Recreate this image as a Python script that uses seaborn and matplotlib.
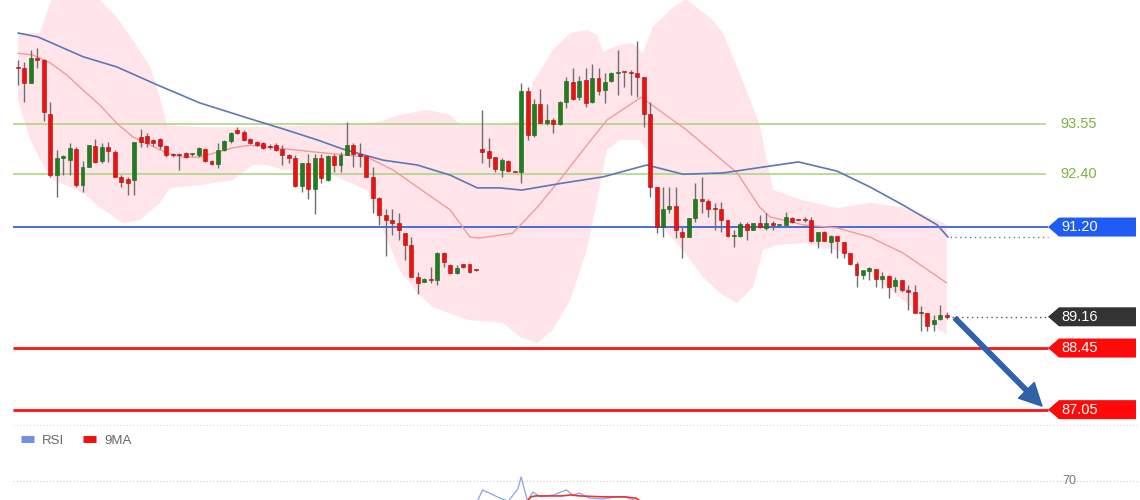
import numpy as np
import pandas as pd
import seaborn as sns
import matplotlib.pyplot as plt
from matplotlib.patches import Polygon
from matplotlib.lines import Line2D

# candles (oldest -> newest)
opens = [94.84, 94.81, 94.47, 95.05, 95.00, 93.78, 92.38, 92.78, 92.72, 92.98,
         92.15, 92.57, 93.05, 92.69, 93.01, 92.90, 92.34, 92.29, 92.27, 93.25,
         93.27, 93.18, 93.20, 93.04, 92.87, 92.85, 92.88, 92.85, 92.83, 92.98,
         92.70, 92.63, 92.95, 93.15, 93.40, 93.37, 93.19, 93.14, 93.10, 93.03,
         93.06, 92.97, 92.84, 92.76, 92.13, 92.65, 92.06, 92.76, 92.27, 92.81,
         92.61, 92.84, 93.06, 92.87, 92.81, 92.34, 91.87, 91.47, 91.37, 91.30,
         91.06, 90.79, 90.07, 89.96, 90.01, 89.99, 90.62, 90.34, 90.15, 90.35,
         90.35, 90.23, 92.97, 92.93, 92.80, 92.50, 92.70, 92.46, 92.44, 94.30,
         93.29, 93.99, 93.57, 93.63, 93.54, 94.05, 94.50, 94.16, 94.54, 94.05,
         94.58, 94.31, 94.53, 94.70, 94.73, 94.70, 94.69, 94.60, 93.78, 92.12,
         91.21, 91.62, 91.68, 91.09, 90.98, 91.40, 91.84, 91.80, 91.62, 91.60,
         91.36, 91.00, 91.00, 91.27, 91.13, 91.30, 91.17, 91.30, 91.25, 91.25,
         91.41, 91.37, 91.37, 91.36, 90.89, 91.09, 90.87, 91.00, 90.87, 90.62,
         90.37, 90.11, 90.21, 90.24, 90.03, 90.09, 89.86, 89.99, 89.77, 89.73,
         89.25, 89.24, 89.00, 89.11, 89.21]
highs = [94.99, 94.95, 95.22, 95.27, 95.02, 94.05, 92.95, 92.84, 93.10, 93.01,
         92.69, 93.06, 93.21, 93.10, 93.14, 92.95, 92.38, 92.34, 93.14, 93.42,
         93.33, 93.21, 93.22, 93.06, 92.89, 92.88, 92.90, 92.88, 93.03, 93.00,
         92.72, 93.10, 93.17, 93.37, 93.48, 93.40, 93.22, 93.16, 93.14, 93.08,
         93.10, 93.06, 92.87, 92.84, 92.65, 92.87, 92.87, 92.87, 92.84, 92.87,
         92.91, 93.59, 93.10, 93.10, 92.84, 92.57, 91.89, 91.62, 91.62, 91.51,
         91.06, 90.98, 90.18, 90.05, 90.30, 90.64, 90.64, 90.36, 90.33, 90.37,
         90.37, 90.24, 93.87, 93.23, 92.80, 92.76, 92.72, 92.47, 94.47, 94.39,
         94.12, 94.33, 93.99, 93.67, 94.07, 94.62, 94.82, 94.63, 94.81, 94.90,
         94.82, 94.69, 94.73, 95.22, 94.73, 94.77, 95.43, 94.60, 94.05, 92.12,
         92.12, 92.12, 92.12, 91.21, 91.40, 92.19, 92.34, 91.83, 91.74, 91.78,
         91.36, 91.13, 91.32, 91.32, 91.30, 91.47, 91.51, 91.34, 91.26, 91.55,
         91.42, 91.38, 91.43, 91.43, 91.09, 91.10, 91.02, 91.00, 90.87, 90.62,
         90.41, 90.22, 90.30, 90.24, 90.18, 90.11, 90.07, 89.99, 89.88, 89.88,
         89.41, 89.24, 89.21, 89.43, 89.28]
lows = [94.43, 94.04, 94.47, 94.81, 93.61, 92.34, 91.89, 92.38, 92.38, 92.12,
        92.00, 92.57, 92.65, 92.65, 92.67, 92.34, 92.12, 91.93, 91.93, 93.03,
        93.03, 93.05, 92.98, 92.80, 92.80, 92.50, 92.78, 92.82, 92.80, 92.68,
        92.60, 92.54, 92.93, 93.10, 93.32, 93.15, 93.08, 93.04, 92.97, 92.98,
        92.93, 92.61, 92.65, 92.12, 92.00, 91.83, 91.49, 92.19, 92.25, 92.46,
        92.46, 92.84, 92.57, 92.57, 92.33, 91.51, 91.25, 90.54, 91.02, 90.90,
        90.45, 90.07, 89.67, 89.95, 89.92, 89.88, 90.30, 90.13, 90.13, 90.28,
        90.16, 90.21, 92.65, 92.57, 92.46, 92.34, 92.46, 92.44, 92.19, 93.18,
        93.25, 93.56, 93.52, 93.33, 93.52, 93.90, 94.09, 94.09, 93.93, 94.01,
        94.20, 94.01, 94.50, 94.20, 94.39, 94.20, 94.16, 93.48, 91.89, 91.06,
        90.98, 91.51, 90.94, 90.49, 90.98, 91.32, 91.51, 91.43, 91.13, 91.09,
        90.98, 90.75, 90.98, 90.90, 91.13, 91.17, 91.13, 91.13, 91.24, 91.25,
        91.30, 91.35, 91.32, 90.87, 90.72, 90.88, 90.60, 90.49, 90.49, 90.34,
        89.84, 90.03, 89.99, 89.84, 89.81, 89.58, 89.73, 89.73, 89.32, 89.24,
        88.83, 88.83, 88.83, 89.09, 89.11]
closes = [94.81, 94.47, 95.04, 95.00, 93.81, 92.38, 92.76, 92.80, 93.00, 92.15,
          92.57, 93.06, 92.67, 93.01, 92.92, 92.34, 92.23, 92.20, 93.14, 93.14,
          93.12, 93.12, 93.04, 92.83, 92.83, 92.84, 92.80, 92.86, 93.00, 92.70,
          92.63, 92.95, 93.15, 93.33, 93.33, 93.18, 93.12, 93.06, 92.99, 93.01,
          92.95, 92.84, 92.76, 92.13, 92.65, 92.06, 92.76, 92.32, 92.81, 92.61,
          92.84, 93.06, 92.87, 92.82, 92.34, 91.87, 91.47, 91.37, 91.30, 91.13,
          90.79, 90.07, 89.93, 90.03, 90.00, 90.62, 90.41, 90.15, 90.28, 90.30,
          90.18, 90.22, 92.91, 92.76, 92.51, 92.72, 92.48, 92.45, 94.30, 93.29,
          93.99, 93.57, 93.63, 93.54, 94.05, 94.52, 94.12, 94.52, 94.01, 94.59,
          94.30, 94.50, 94.69, 94.71, 94.72, 94.69, 94.60, 93.78, 92.12, 91.21,
          91.62, 91.68, 91.13, 90.98, 91.40, 91.84, 91.80, 91.62, 91.60, 91.36,
          91.00, 91.00, 91.27, 91.13, 91.30, 91.21, 91.30, 91.25, 91.25, 91.42,
          91.32, 91.36, 91.36, 90.89, 91.09, 90.89, 91.00, 90.89, 90.60, 90.37,
          90.11, 90.22, 90.26, 90.03, 90.09, 89.83, 89.99, 89.77, 89.73, 89.24,
          89.24, 88.96, 89.09, 89.21, 89.16]

# bollinger envelope, read at candle positions
band_up_x = [0, 3.4, 5, 6, 12, 12.7, 15.3, 17.8, 20.5, 22, 23.1, 28.2, 36, 42.6,
             48.4, 56.1, 59.2, 63.4, 67, 68.5, 74.7, 78.6, 79.8, 82.9, 85.6, 88.2,
             89.8, 90.7, 93.3, 95.3, 96.9, 98.4, 101.1, 103.6, 105.7, 107.3, 109.3,
             111.5, 113.5, 115, 116.1, 117.1, 121.7, 127, 132.1, 137.2, 142.5, 144]
band_up = [95.61, 95.61, 96.29, 96.6, 96.6, 96.36, 95.97, 95.45, 94.84, 94.15,
           93.52, 93.47, 93.47, 93.50, 93.52, 93.59, 93.75, 93.86, 93.75, 93.52,
           93.52, 93.63, 94.47, 95.22, 95.61, 95.68, 95.56, 95.18, 95.34, 95.38,
           95.15, 95.75, 96.13, 96.40, 96.13, 95.97, 95.61, 94.84, 94.09, 93.52,
           92.72, 92.04, 91.81, 91.63, 91.75, 91.65, 91.36, 91.25]
band_lo_x = [0, 1.9, 5, 10.1, 12.7, 16.3, 18.9, 22, 23.6, 28.2, 33.3, 36.4, 38.6,
             41.1, 43.7, 48.8, 51.5, 54.1, 56.6, 59.2, 61.9, 64.3, 69.6, 75.2, 77.8,
             80.5, 82.9, 85.6, 88.2, 89.8, 91.3, 93.3, 96.4, 97.5, 98.8, 100.3, 103.1,
             106.2, 108.8, 111.5, 114, 115.5, 117.7, 121.7, 127, 132.1, 137.2, 141.4, 144]
band_lo = [94.09, 93.18, 92.31, 91.97, 91.65, 91.29, 91.36, 91.75, 92.09, 92.15,
           92.27, 92.61, 92.61, 92.50, 92.50, 92.38, 92.20, 92.04, 91.13, 90.22,
           89.70, 89.38, 89.09, 89.02, 88.70, 88.56, 88.86, 89.54, 90.68, 91.81,
           92.95, 93.18, 93.18, 92.95, 92.04, 91.13, 90.68, 90.06, 89.70, 89.47,
           89.84, 90.68, 90.79, 90.84, 90.68, 90.15, 89.54, 89.02, 88.75]
mid_x = [0, 2.3, 5, 7.6, 10.1, 12.7, 15.3, 17.8, 20.5, 23.1, 25.6, 28.2, 33.3, 36,
         46.4, 54.1, 58.1, 61.9, 67, 70.1, 71.6, 76.7, 80.5, 84, 87.6, 91.3, 96.6,
         103.7, 107.3, 111.5, 115, 116.6, 121.7, 127, 132.1, 137.2, 144]
mid = [95.15, 95.11, 94.93, 94.65, 94.31, 93.97, 93.56, 93.25, 93.06, 92.88, 92.79,
       92.79, 93.00, 93.06, 92.90, 92.79, 92.50, 92.11, 91.59, 90.97, 90.95, 91.06,
       91.65, 92.27, 92.95, 93.63, 94.15, 93.40, 92.95, 92.43, 91.65, 91.43, 91.25,
       91.18, 90.97, 90.61, 89.93]
ma_x = [0, 3.1, 10.1, 15.3, 21.6, 28.2, 36, 41.1, 46.4, 50.4, 56.6, 61.9, 67, 71.2,
        74.7, 78.1, 84.5, 90.7, 97.5, 103.1, 109.3, 121, 127, 132.1, 137.2, 142.5, 144.2]
ma = [95.61, 95.52, 95.07, 94.84, 94.43, 94.02, 93.66, 93.43, 93.18, 92.97, 92.72,
      92.61, 92.38, 92.09, 92.09, 92.04, 92.20, 92.34, 92.61, 92.40, 92.43, 92.68,
      92.47, 92.11, 91.70, 91.25, 90.97]

# RSI panel (only its top edge is visible)
rsi_x = [71, 72, 73.4, 74.7, 76, 77.5, 78, 79, 79.8, 81, 83, 85, 86, 87.1, 88.5,
         90.7, 92.7, 94.1, 95.5, 96.5]
rsi = [60, 66.2, 64.5, 62.8, 61.5, 66.6, 71.6, 61.5, 65.3, 63.3, 64.1, 66.2, 64.1,
       64.9, 62.8, 62.4, 63.3, 63.3, 62.0, 60]
rsi_ma_x = [78.5, 79.5, 80.3, 84.3, 85.7, 87.1, 90.7, 94.1, 95.8, 96.8]
rsi_ma = [60, 63.3, 63.7, 63.7, 64.1, 63.7, 63.3, 63.3, 62.8, 61]

green_levels = [93.55, 92.40]
blue_level = 91.20
red_levels = [88.45, 87.05]
last_price = closes[-1]
rsi_level = 70

# pixel layout helpers (figure is 1140 x 500)
X0, DX = 18, 6.45
def px(x):
    return (x - X0) / DX

PPU = 44.0  # pixels per price unit
top_price = 96.36
main_h = 424

sns.set_theme(style="white")
plt.rcParams['font.family'] = ['Liberation Sans', 'DejaVu Sans']

fig = plt.figure(figsize=(11.4, 5.0), dpi=100)
fig.patch.set_facecolor('white')
ax = fig.add_axes([0, (500 - main_h) / 500, 1, main_h / 500])
ax.set_xlim(px(0), px(1140))
ax.set_ylim(top_price - main_h / PPU, top_price)
ax.axis('off')

# band
ax.fill(np.r_[band_up_x, band_lo_x[::-1]], np.r_[band_up, band_lo[::-1]],
        color='#ffe5e9', lw=0, zorder=0)

sns.lineplot(x=mid_x, y=mid, ax=ax, color='#f39a9a', lw=1.0, zorder=2)
sns.lineplot(x=ma_x, y=ma, ax=ax, color='#5b78b8', lw=1.2, zorder=2)

# levels
ax.hlines(green_levels, px(13), px(1046), color='#a5d57a', lw=1.1, zorder=1)
ax.hlines(blue_level, px(13), px(1048), color='#3a63d6', lw=1.3, zorder=1)
ax.hlines(red_levels, px(13), px(1048), color='#ff1010', lw=2.0, zorder=1)
ax.hlines(last_price, px(952), px(1048), color='#555555', lw=1, linestyles=(0, (1, 2.5)))
ax.hlines(ma[-1], px(950), px(1048), color='#5b78b8', lw=1, linestyles=(0, (1, 2.5)))

# candles
df = pd.DataFrame({'o': opens, 'h': highs, 'l': lows, 'c': closes})
df['i'] = np.arange(len(df))
up = df['c'] >= df['o']
body_lo = df[['o', 'c']].min(axis=1)
body_h = (df['c'] - df['o']).abs().clip(lower=0.03)
ax.vlines(df['i'], df['l'], df['h'], color='#6e6e6e', lw=1.0, zorder=3)
ax.bar(df['i'], body_h, bottom=body_lo, width=0.62,
       color=np.where(up, '#1f7f1f', '#f01010'),
       edgecolor=np.where(up, '#1a5e1a', '#a01010'), lw=0.4, zorder=4)

# price tags
def tag(y, text, color):
    h = 9.5 / PPU
    pts = [(px(1048), y), (px(1059), y + h), (px(1136), y + h),
           (px(1136), y - h), (px(1059), y - h)]
    ax.add_patch(Polygon(pts, closed=True, color=color, lw=0, zorder=5))
    ax.text(px(1061), y, text, color='white', fontsize=10.5, va='center', ha='left', zorder=6)

tag(blue_level, f'{blue_level:.2f}', '#1f5cf5')
tag(last_price, f'{last_price:.2f}', '#333333')
for lv in red_levels:
    tag(lv, f'{lv:.2f}', '#ff0a0a')
for lv in green_levels:
    ax.text(px(1060), lv, f'{lv:.2f}', color='#7cb342', fontsize=10.5, va='center', ha='left')

ax.annotate('', xy=(px(1042), red_levels[1] + 0.08), xytext=(px(955), last_price - 0.03),
            arrowprops=dict(arrowstyle='simple,head_length=0.8,head_width=0.8,tail_width=0.16',
                            color='#2f62a8', mutation_scale=20, shrinkA=0, shrinkB=0), zorder=7)

# RSI panel
ax2 = fig.add_axes([0, 0, 1, 76 / 500])
ax2.set_xlim(px(0), px(1140))
ax2.set_ylim(62, 62 + 76 / 2.4)
ax2.axis('off')
ax2.hlines(62 + 75.5 / 2.4, px(13), px(1140), color='#d8d8d8', lw=0.8, linestyles=(0, (1, 2)))
ax2.hlines(rsi_level, px(13), px(1140), color='#cccccc', lw=0.8, linestyles=(0, (1, 2)))
ax2.text(px(1062), rsi_level, str(rsi_level), color='#777777', fontsize=9, va='center')
sns.lineplot(x=rsi_x, y=rsi, ax=ax2, color='#8aa4e8', lw=0.9)
sns.lineplot(x=rsi_ma_x, y=rsi_ma, ax=ax2, color='#f03030', lw=1.2)
handles = [Line2D([0], [0], color='#6f8fe6', lw=5, solid_capstyle='butt'),
           Line2D([0], [0], color='#f01010', lw=5, solid_capstyle='butt')]
ax2.legend(handles, ['RSI', '9MA'], loc='center left', bbox_to_anchor=(0.008, 0.78),
           frameon=False, ncol=2, handlelength=1.0, handletextpad=0.6, columnspacing=1.4,
           fontsize=9.5, labelcolor='#666666')

fig.savefig('out.png', dpi=100)
